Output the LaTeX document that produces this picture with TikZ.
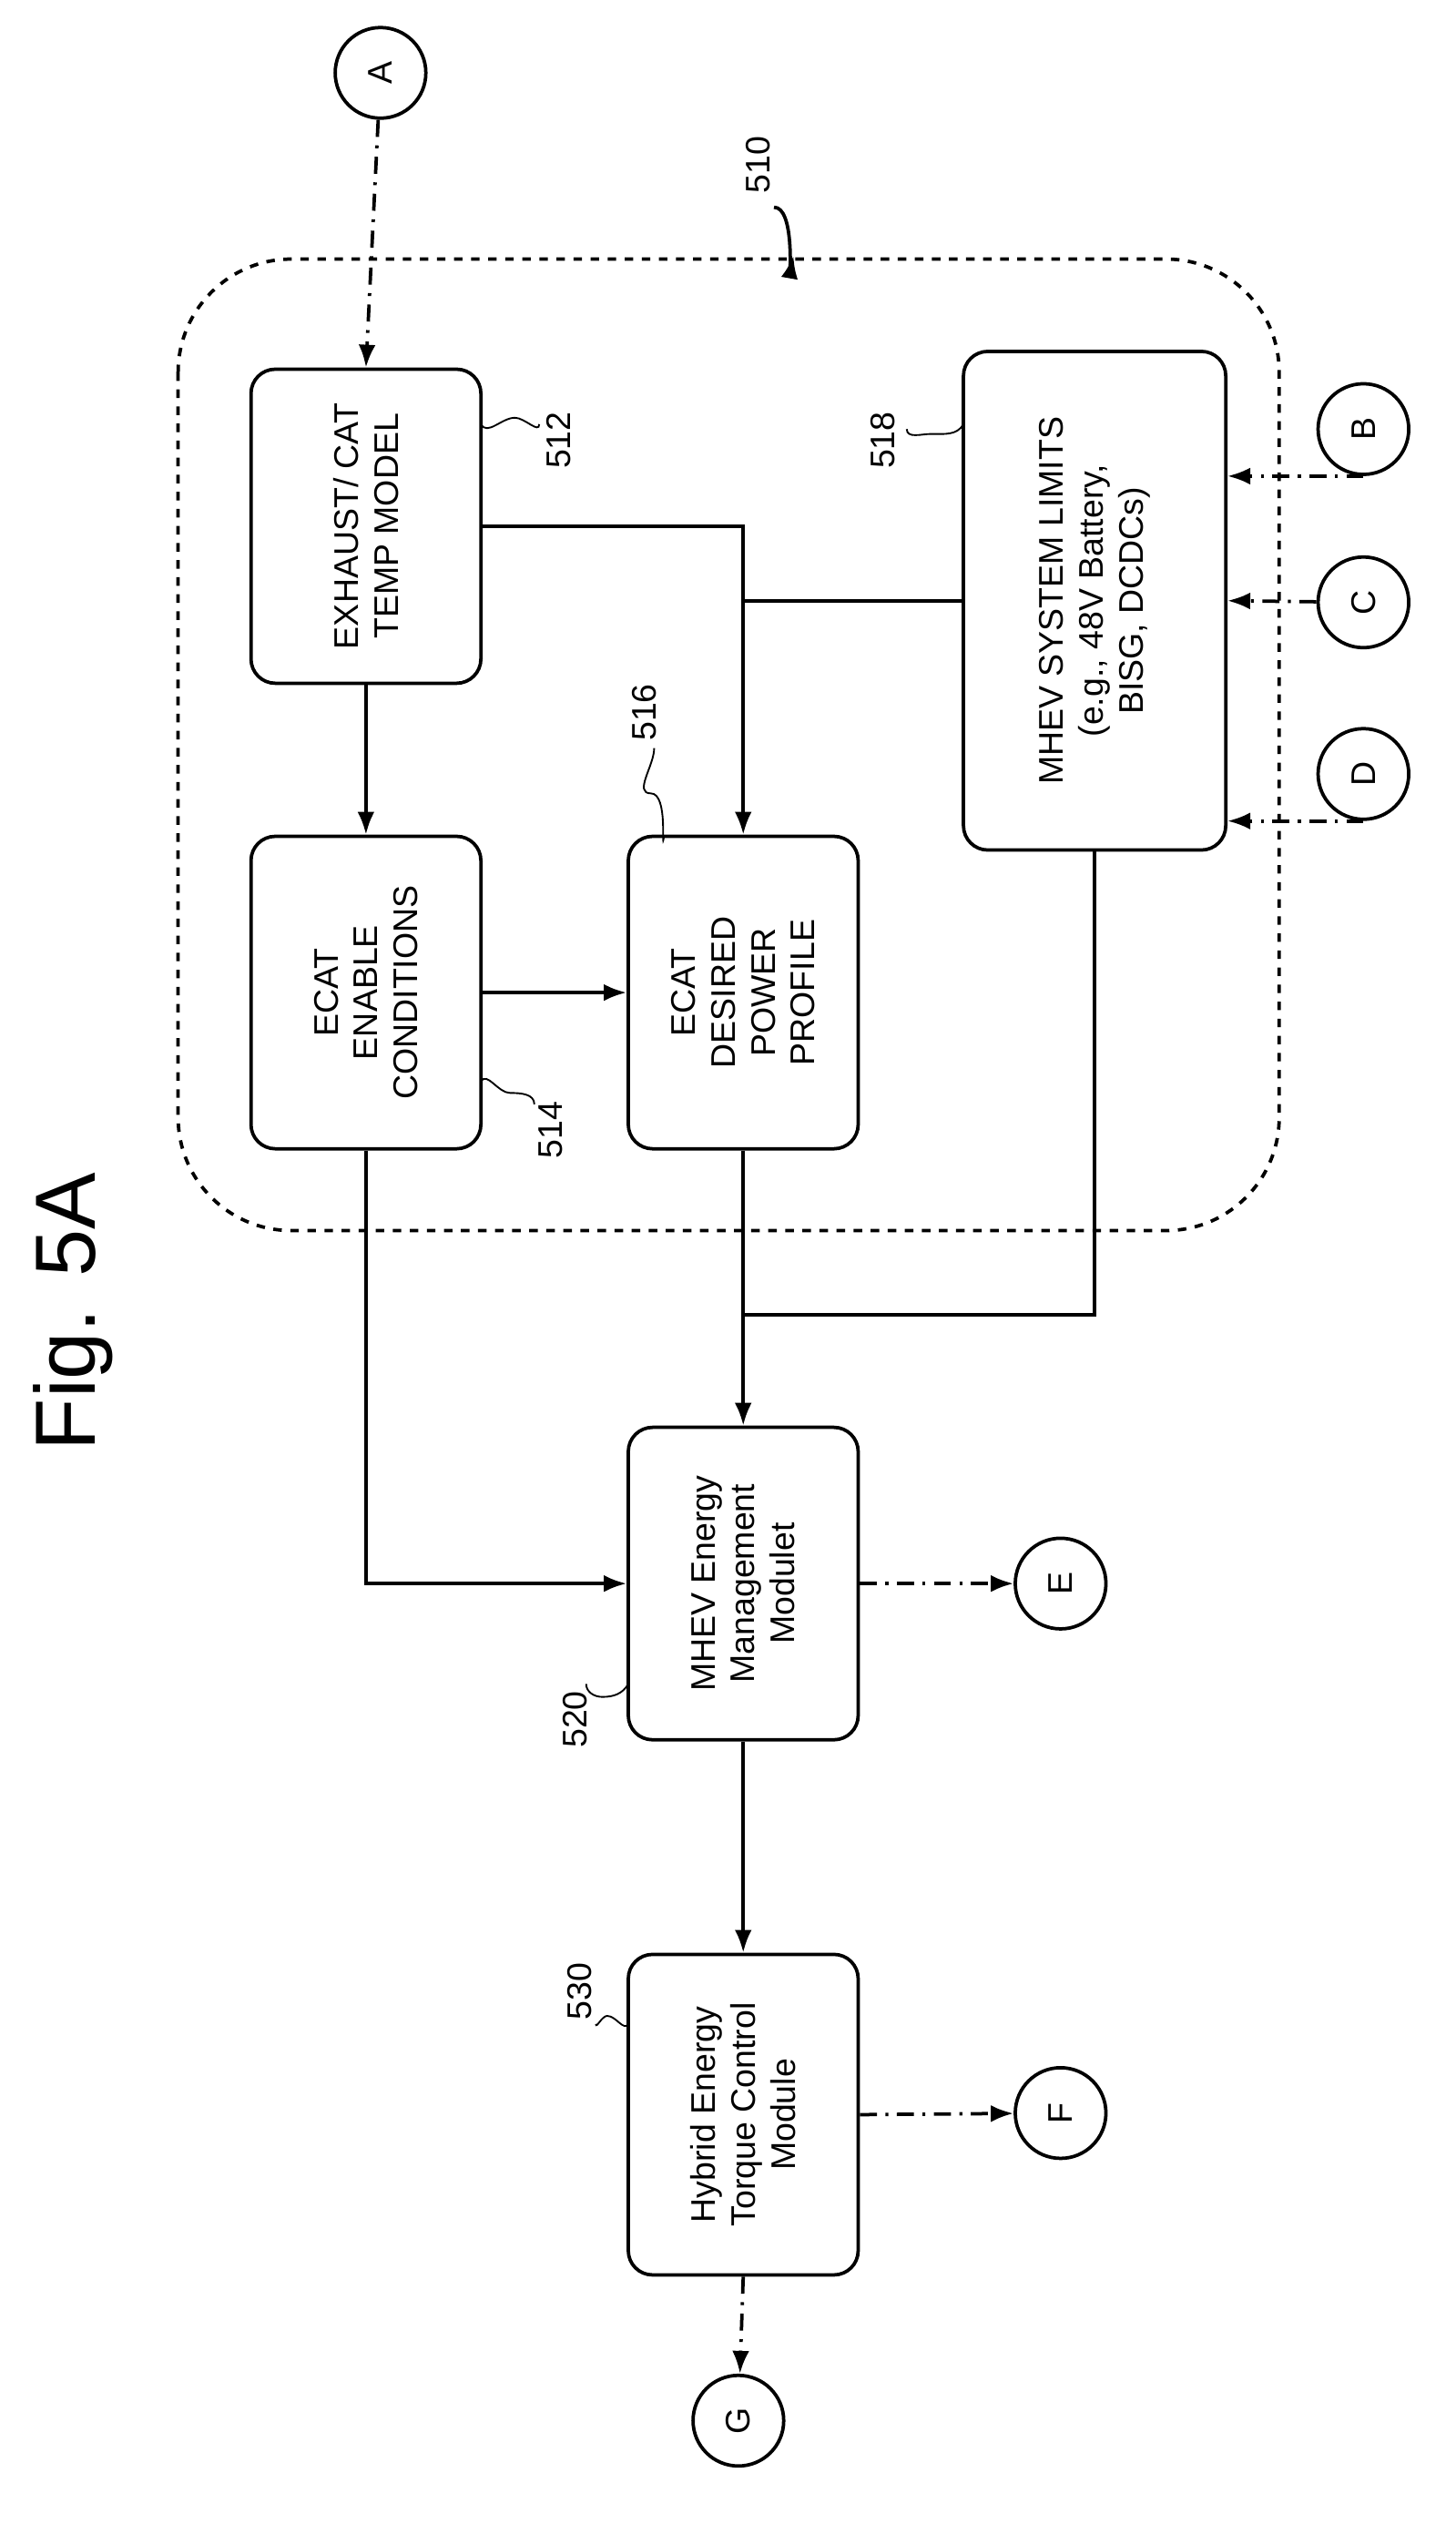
\documentclass[tikz,border=0pt]{standalone}
\usepackage{fontspec}
\setmainfont{Liberation Sans}
\usetikzlibrary{arrows.meta,calc}
\begin{document}
\begin{tikzpicture}[x=0.02cm, y=-0.02cm, semithick, >={Latex[length=8pt,width=6pt]},
  blk/.style={draw, very thick, rounded corners=0.3cm, rotate=90, align=center, font=\large, inner sep=2pt},
  conn/.style={draw, very thick, circle, minimum size=1.12cm, rotate=90, font=\large, inner sep=0pt},
  dd/.style={very thick, dash pattern=on 6pt off 3pt on 1pt off 3pt},
  lbl/.style={rotate=90, font=\large}]
  \useasboundingbox (0,0) rectangle (899,1565);

  \node [rotate=90, font=\fontsize{30}{36}\selectfont] (title) at (45,810) {Fig. 5A};

  % dashed frame 510
  \draw [very thick, dashed, rounded corners=1.4cm] (110,160) rectangle (790,760);
  \node [lbl] (l510) at (468,102) {510};
  \draw [very thick, ->] (478,128) to[out=0, in=-100] (490,158);

  \node [conn] (a) at (235,45) {A};
  \node [conn] (b) at (842,265) {B};
  \node [conn] (c) at (842,372) {C};
  \node [conn] (d) at (842,478) {D};
  \node [conn] (e) at (655,978) {E};
  \node [conn] (f) at (655,1305) {F};
  \node [conn] (g) at (456,1495) {G};

  \node [blk, minimum width=3.88cm, minimum height=2.84cm] (b512) at (226,325) {EXHAUST/ CAT\\TEMP MODEL};
  \node [blk, minimum width=3.86cm, minimum height=2.84cm] (b514) at (226,613) {ECAT\\ENABLE\\CONDITIONS};
  \node [blk, minimum width=3.86cm, minimum height=2.84cm] (b516) at (459,613) {ECAT\\DESIRED\\POWER\\PROFILE};
  \node [blk, minimum width=6.16cm, minimum height=3.24cm] (b518) at (676,371) {MHEV SYSTEM LIMITS\\(e.g., 48V Battery,\\BISG, DCDCs)};
  \node [blk, minimum width=3.86cm, minimum height=2.84cm] (b520) at (459,978) {MHEV Energy\\Management\\Modulet};
  \node [blk, minimum width=3.96cm, minimum height=2.84cm] (b530) at (459,1306) {Hybrid Energy\\Torque Control\\Module};

  % reference numerals
  \node [lbl] (l512) at (345,272) {512};
  \draw (297,262) to[out=-60, in=180] (318,258) to[out=0, in=-90] (333,262);
  \node [lbl] (l514) at (340,698) {514};
  \draw (297,668) to[out=60, in=180] (315,675) to[out=0, in=90] (330,682);
  \node [lbl] (l516) at (398,440) {516};
  \draw (410,517) to[out=-100, in=0] (402,490) to[out=180, in=-90] (404,462);
  \node [lbl] (l518) at (545,272) {518};
  \draw (595,262) to[out=-120, in=0] (575,268) to[out=180, in=-90] (560,265);
  \node [lbl] (l520) at (355,1062) {520};
  \draw (388,1040) to[out=-120, in=0] (372,1048) to[out=180, in=-90] (362,1040);
  \node [lbl] (l530) at (358,1230) {530};
  \draw (388,1250) to[out=-120, in=0] (375,1245) to[out=180, in=-90] (368,1250);

  % connectors
  \coordinate (j) at (459,812);
  \draw [dd, ->] (a) -- (b512.east);
  \draw [very thick, ->] (b512.west) -- (b514.east);
  \draw [very thick, ->] (b512.south) -| (b516.east);
  \draw [very thick] (b518.north) -- (b518.north -| b516.east);
  \draw [very thick, ->] (b514.south) -- (b516.north);
  \draw [very thick, ->] (b514.west) |- (b520.north);
  \draw [very thick, ->] (b516.west) -- (b520.east);
  \draw [very thick] (b518.west) |- (j);
  \draw [very thick, ->] (b520.west) -- (b530.east);
  \draw [dd, ->] (b.west) -- (b.west -| b518.south);
  \draw [dd, ->] (c) -- (b518.south);
  \draw [dd, ->] (d.west) -- (d.west -| b518.south);
  \draw [dd, ->] (b520.south) -- (e);
  \draw [dd, ->] (b530.south) -- (f);
  \draw [dd, ->] (b530.west) -- (g);
\end{tikzpicture}
\end{document}
